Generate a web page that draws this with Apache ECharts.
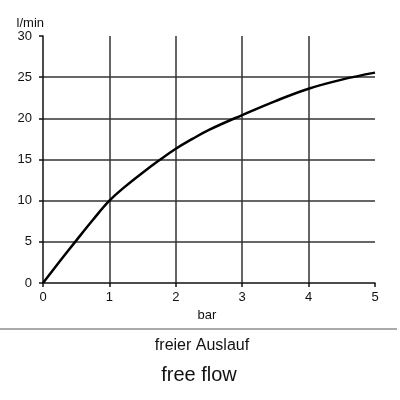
<!DOCTYPE html>
<html><head><meta charset="utf-8">
<script src="https://cdn.jsdelivr.net/npm/echarts@6/dist/echarts.min.js"></script>
<style>html,body{margin:0;padding:0;background:#fff}#c{width:400px;height:400px}</style>
</head><body><div id="c"></div>
<script>
const pressureBar = [0, 0.25, 0.5, 0.75, 1, 1.25, 1.5, 1.75, 2, 2.25, 2.5, 3, 3.5, 4, 4.5, 5];
const flowLmin   = [0, 2.6, 5.15, 7.65, 10, 11.8, 13.4, 14.9, 16.3, 17.5, 18.6, 20.4, 22.1, 23.6, 24.7, 25.55];
const xTicks = [0, 1, 2, 3, 4, 5];
const yTicks = [0, 5, 10, 15, 20, 25, 30];
const titleDe = 'freier Auslauf';
const titleEn = 'free flow';

const chart = echarts.init(document.getElementById('c'), null, {renderer: 'canvas'});
const font = 'Liberation Sans, Arial, sans-serif';
const gridColor = '#333';
chart.setOption({
  animation: false,
  backgroundColor: '#fff',
  grid: {left: 43, right: 25, top: 36, bottom: 117},
  xAxis: {
    type: 'value', min: xTicks[0], max: xTicks[xTicks.length - 1], interval: 1,
    name: 'bar', nameLocation: 'middle', nameGap: 19,
    nameTextStyle: {fontFamily: font, fontSize: 13, color: '#111', padding: [0, 4, 0, 0]},
    axisLine: {lineStyle: {color: '#111', width: 1.5}},
    axisTick: {show: true, length: 4, lineStyle: {color: '#111', width: 1.5}},
    axisLabel: {fontFamily: font, fontSize: 13, color: '#111', margin: 8},
    splitLine: {show: true, showMinLine: false, showMaxLine: false, lineStyle: {color: gridColor, width: 1.5}}
  },
  yAxis: {
    type: 'value', min: yTicks[0], max: yTicks[yTicks.length - 1], interval: 5,
    name: 'l/min', nameLocation: 'end', nameGap: 4,
    nameTextStyle: {fontFamily: font, fontSize: 13, color: '#111', align: 'right', padding: [0, -1, 0, 0]},
    axisLine: {show: true, lineStyle: {color: '#111', width: 1.5}},
    axisTick: {show: true, length: 4, lineStyle: {color: '#111', width: 1.5}},
    axisLabel: {fontFamily: font, fontSize: 13, color: '#111', margin: 11},
    splitLine: {show: true, showMinLine: false, showMaxLine: false, lineStyle: {color: gridColor, width: 1.5}}
  },
  series: [{
    type: 'line',
    data: pressureBar.map((x, i) => [x, flowLmin[i]]),
    smooth: 0.4,
    showSymbol: false,
    lineStyle: {color: '#000', width: 2.5}
  }],
  graphic: [
    {type: 'line', shape: {x1: 0, y1: 329, x2: 397, y2: 329}, style: {stroke: '#555', lineWidth: 1}},
    {type: 'text', x: 202, y: 346, style: {text: titleDe, font: '16px ' + font, fill: '#111', align: 'center', verticalAlign: 'middle'}},
    {type: 'text', x: 199, y: 375, style: {text: titleEn, font: '20px ' + font, fill: '#111', align: 'center', verticalAlign: 'middle'}}
  ]
});
</script></body></html>
